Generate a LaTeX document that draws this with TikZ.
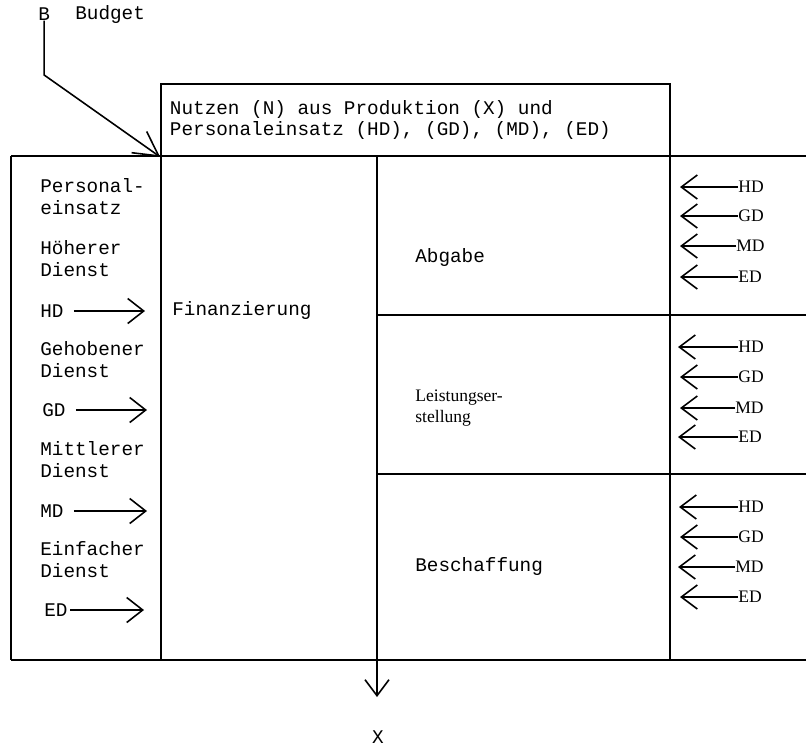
\documentclass[tikz,border=0pt]{standalone}
\usepackage{fontspec}
\setmonofont{Liberation Mono}
\setmainfont{Liberation Serif}
\usetikzlibrary{arrows.meta,positioning}
\newcommand\tsp{\hspace*{0.6em}}

\begin{document}
\begin{tikzpicture}[
  x=0.2mm, y=-0.2mm,
  every node/.style={inner sep=0pt},
  tt/.style={font=\fontsize{11}{12.5}\selectfont\ttfamily, anchor=west, align=left},
  rm/.style={font=\fontsize{10}{11.5}\selectfont\rmfamily, anchor=west, align=left},
  frame/.style={line width=1pt},
  topbox/.style={draw, frame, font=\fontsize{11}{12.5}\selectfont\ttfamily, align=left,
    text width=98.2mm, inner sep=1.8mm, minimum height=14.4mm},
  inflow/.style={-{Straight Barb[length=3.2mm,width=5mm]}, line width=0.9pt, shorten <=2mm},
  outflow/.style={-{Straight Barb[length=3.2mm,width=4.8mm]}, line width=0.9pt},
  budgetflow/.style={-{Straight Barb[length=4.8mm,width=5.2mm]}, line width=0.9pt}
]
\useasboundingbox (0,0) rectangle (806,748);

% - Budget and top box -
\node[tt] (b) at (38,14) {B};
\node[tt] (budget) at (75,14) {Budget};
\node[topbox] (nutzen) at (415.5,120)
  {Nutzen\tsp(N)\tsp aus\tsp Produktion\tsp(X)\tsp und\\Personaleinsatz\tsp(HD),\tsp(GD),\tsp(MD),\tsp(ED)};
\coordinate (bknee) at (43,75);
\draw[budgetflow] (b.south) -- (b.south |- bknee) -- (nutzen.south west);

% - Frame -
\draw[frame] (11,156) -- (806,156);
\draw[frame] (11,660) -- (806,660);
\draw[frame] (11,156) -- (11,660);
\draw[frame] (161,156) -- (161,660);
\draw[frame] (377,156) -- (377,660);
\draw[frame] (670,156) -- (670,660);
\draw[frame] (377,315) -- (806,315);
\draw[frame] (377,474) -- (806,474);

% - Left column: Personaleinsatz -
\node[tt] (pers) at (40,197) {Personal-\\einsatz};
\node[tt] (hoeh) at (40,259) {Höherer\\Dienst};
\node[tt] (hdL) at (40,311) {HD};
\node[tt] (geh) at (40,360) {Gehobener\\Dienst};
\node[tt] (gdL) at (42,410) {GD};
\node[tt] (mitt) at (40,460) {Mittlerer\\Dienst};
\node[tt] (mdL) at (40,511) {MD};
\node[tt] (einf) at (40,560) {Einfacher\\Dienst};
\node[tt] (edL) at (44,610) {ED};
\coordinate (hdLt) at (145,311);
\coordinate (gdLt) at (147,410);
\coordinate (mdLt) at (147,511);
\coordinate (edLt) at (144,610);
\draw[inflow] (hdL) -- (hdLt);
\draw[inflow] (gdL) -- (gdLt);
\draw[inflow] (mdL) -- (mdLt);
\draw[inflow, shorten <=0.5mm] (edL) -- (edLt);

% - Middle columns -
\node[tt] (fin) at (172,310) {Finanzierung};
\node[tt] (abgabe) at (415,257) {Abgabe};
\node[rm] (leist) at (415,408) {Leistungser-\\stellung};
\node[tt] (besch) at (415,566) {Beschaffung};

% - Right column: Abgabe -
\node[rm] (abHD) at (738,187) {HD};
\node[rm] (abGD) at (738,216) {GD};
\node[rm] (abMD) at (736,246) {MD};
\node[rm] (abED) at (738,277) {ED};
\coordinate (abHDt) at (680,187);
\coordinate (abGDt) at (680,216);
\coordinate (abMDt) at (680,246);
\coordinate (abEDt) at (680,277);
\draw[outflow] (abHD) -- (abHDt);
\draw[outflow] (abGD) -- (abGDt);
\draw[outflow] (abMD) -- (abMDt);
\draw[outflow] (abED) -- (abEDt);

% - Right column: Leistungserstellung -
\node[rm] (leHD) at (738,347) {HD};
\node[rm] (leGD) at (738,377) {GD};
\node[rm] (leMD) at (735,408) {MD};
\node[rm] (leED) at (738,437) {ED};
\coordinate (leHDt) at (678,347);
\coordinate (leGDt) at (680,377);
\coordinate (leMDt) at (680,408);
\coordinate (leEDt) at (678,437);
\draw[outflow] (leHD) -- (leHDt);
\draw[outflow] (leGD) -- (leGDt);
\draw[outflow] (leMD) -- (leMDt);
\draw[outflow] (leED) -- (leEDt);

% - Right column: Beschaffung -
\node[rm] (beHD) at (738,507) {HD};
\node[rm] (beGD) at (738,537) {GD};
\node[rm] (beMD) at (735,567) {MD};
\node[rm] (beED) at (738,597) {ED};
\coordinate (beHDt) at (679,507);
\coordinate (beGDt) at (680,537);
\coordinate (beMDt) at (678,567);
\coordinate (beEDt) at (680,597);
\draw[outflow] (beHD) -- (beHDt);
\draw[outflow] (beGD) -- (beGDt);
\draw[outflow] (beMD) -- (beMDt);
\draw[outflow] (beED) -- (beEDt);

% - Output X -
\coordinate (finS) at (377,660);
\coordinate (xtip) at (377,697);
\node[tt, anchor=center] (xout) at (378,737) {X};
\draw[outflow] (finS) -- (xtip);

\end{tikzpicture}
\end{document}
